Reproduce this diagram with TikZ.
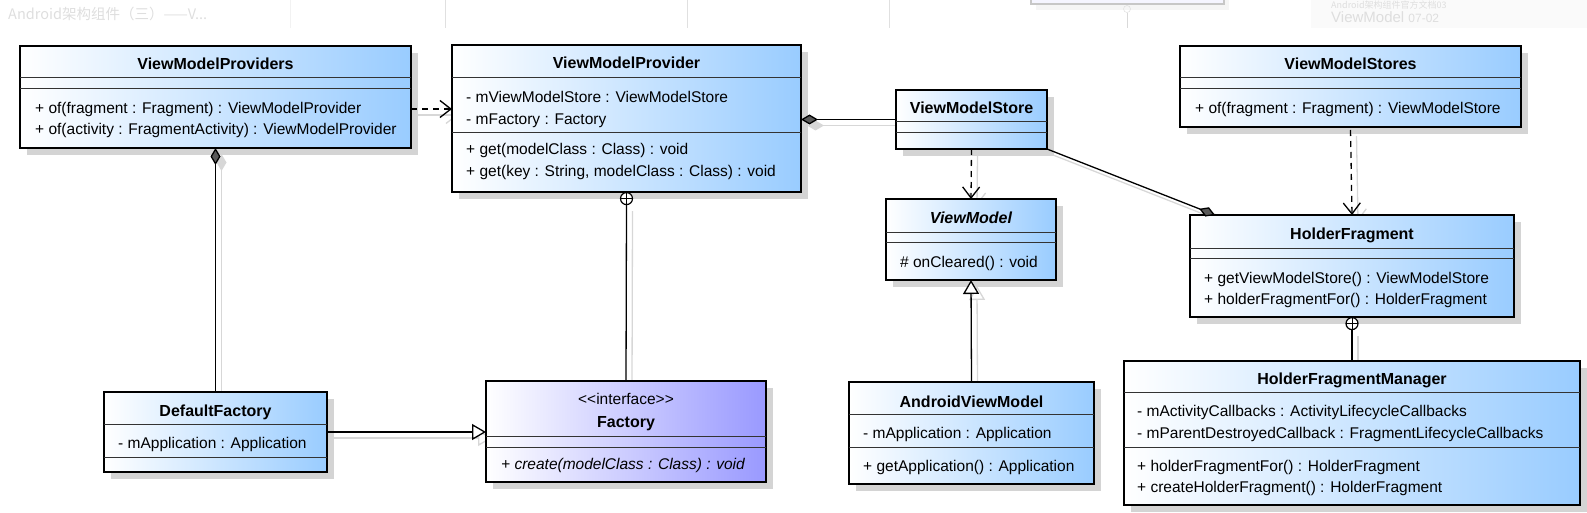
\documentclass[tikz,border=0pt]{standalone}
\usepackage{fontspec}
\setmainfont{Liberation Sans}[Ligatures=NoCommon]
\newfontfamily\cjkfont{Noto Sans CJK SC}
\usetikzlibrary{arrows.meta,shadows,calc}
\pgfdeclarelayer{bg}
\pgfsetlayers{bg,main}
\definecolor{umlblue}{RGB}{153,204,255}
\definecolor{umlviolet}{RGB}{153,153,255}
\definecolor{ghost}{RGB}{215,215,215}
\definecolor{faint}{RGB}{222,222,222}
\def\cc{black}
\def\dfill{black!65}
\tikzset{
  umlclass/.style={draw=black, line width=2.9pt, left color=white, right color=umlblue,
    inner sep=0pt, outer sep=0pt, anchor=north west,
    drop shadow={shadow xshift=7pt, shadow yshift=-7pt, fill=black!17, opacity=1}},
  sepline/.style={line width=1pt, draw=black!80},
  txt/.style={font=\fontsize{15.5}{18}\selectfont, inner sep=0pt, anchor=base west},
  ttl/.style={font=\fontsize{16}{19}\selectfont\bfseries, inner sep=0pt, anchor=base},
  conn/.style={line width=1.3pt, draw=\cc},
  deppat/.style={dash pattern=on 6pt off 5pt},
  dep/.style={conn, deppat, -{Straight Barb[length=11pt,width=17pt,line width=1.3pt]}},
  comp/.style={conn, -{Diamond[length=17pt,width=10pt,fill=\dfill]}},
  gen/.style={conn, -{Triangle[open,length=14pt,width=16pt,fill=white]}},
  nest/.style={conn},
  nestc/.style={circle, draw=black, line width=1.2pt, fill=white, minimum size=12pt, inner sep=0pt,
    path picture={\draw[line width=1pt] (path picture bounding box.north) -- (path picture bounding box.south)
      (path picture bounding box.west) -- (path picture bounding box.east);}},
}
\newcommand\umlbox[6]{%
  \node[umlclass, right color=#6, minimum width={#4-#2}, minimum height={#5-#3}] (#1) at (#2,#3) {};}
\newcommand\sep[2]{\draw[sepline] (#1.west |- 0,#2) -- (#1.east |- 0,#2);}
\newcommand\allconns{%
  \draw[dep] ($(vmps.north east)+(0,63)$) -- ($(vmp.north west)+(0,64)$);
  \draw[comp] (vms.west) -- (vmp.east |- vms.west);
  \draw[comp] (dfac.north) -- (vmps.south);
  \draw[nest] (fac.north) -- (n1.south);
  \draw[gen] (avm.north) -- (vm.south);
  \draw[gen] (dfac.east) -- (fac.west |- dfac.east);
  \draw[dep] (vms.south) -- (vm.north);
  \draw[dep] ($(vmss.south)+(0,3)$) -- (hf.north);
  \draw[comp] (vms.south east) -- ($(hf.north west)+(25,0)$);
  \draw[nest] (hfm.north) -- (n2.south);
}
\begin{document}
\begin{tikzpicture}[x=1pt,y=-1pt]
\useasboundingbox (0,0) rectangle (1587,513);
% faint background remnants
\node[font=\cjkfont\fontsize{14.5}{16}\selectfont, text=faint, anchor=base west, inner sep=0pt] (bgt1) at (8,19.5) {Android架构组件（三）——V...};
\foreach \xx in {445,687,889} \draw[black!12, line width=0.8pt] (\xx,0) -- (\xx,28);
\draw[black!5, line width=0.8pt] (290,0) -- (290,28);
\fill[black!4] (1036,-5) rectangle (1229,10);
\node[draw=black!22, line width=1.5pt, fill=blue!4, minimum width=193pt, minimum height=15pt, inner sep=0pt, anchor=south west] (bgbox) at (1030,5) {};
\node[circle, draw=black!15, minimum size=7pt, inner sep=0pt] (bgc) at (1127,9) {};
\draw[black!15, line width=0.8pt] (bgc.south) -- (1127,28);
\fill[black!2] (1311,0) rectangle (1587,28);
\node[text=faint, anchor=base west, inner sep=0pt, font=\cjkfont\fontsize{9}{10}\selectfont] (bgt2) at (1331,9) {Android架构组件官方文档03};
\node[text=faint, anchor=base west, inner sep=0pt, font=\fontsize{15}{18}\selectfont] (bgt3) at (1331,23) {ViewModel {\fontsize{12}{14}\selectfont 07-02}};

% classes
\umlbox{vmps}{20}{46}{411}{148}{umlblue}
\sep{vmps}{78}\sep{vmps}{89}
\node[ttl] (vmps-t) at (215.5,70) {ViewModelProviders};
\node[txt] (vmps-m1) at (35,114) {+ of(fragment : Fragment) : ViewModelProvider};
\node[txt] (vmps-m2) at (35,135) {+ of(activity : FragmentActivity) : ViewModelProvider};

\umlbox{vmp}{452}{45}{801}{192}{umlblue}
\sep{vmp}{78}\sep{vmp}{133}
\node[ttl] (vmp-t) at (626.5,69) {ViewModelProvider};
\node[txt] (vmp-a1) at (466,103) {- mViewModelStore : ViewModelStore};
\node[txt] (vmp-a2) at (466,125) {- mFactory : Factory};
\node[txt] (vmp-m1) at (466,155) {+ get(modelClass : Class) : void};
\node[txt] (vmp-m2) at (466,177) {+ get(key : String, modelClass : Class) : void};

\umlbox{vms}{896}{90}{1047}{149}{umlblue}
\sep{vms}{122}\sep{vms}{133}
\node[ttl] (vms-t) at (971.5,114) {ViewModelStore};

\umlbox{vmss}{1180}{46}{1521}{127}{umlblue}
\sep{vmss}{78}\sep{vmss}{89}
\node[ttl] (vmss-t) at (1350.5,70) {ViewModelStores};
\node[txt] (vmss-m1) at (1195,114) {+ of(fragment : Fragment) : ViewModelStore};

\umlbox{vm}{886}{199}{1056}{280}{umlblue}
\sep{vm}{232}\sep{vm}{242}
\node[ttl, font=\fontsize{16}{19}\selectfont\bfseries\itshape] (vm-t) at (971,223) {ViewModel};
\node[txt] (vm-m1) at (900,267) {\# onCleared() : void};

\umlbox{hf}{1190}{215}{1514}{317}{umlblue}
\sep{hf}{248}\sep{hf}{258}
\node[ttl] (hf-t) at (1352,239) {HolderFragment};
\node[txt] (hf-m1) at (1204,283) {+ getViewModelStore() : ViewModelStore};
\node[txt] (hf-m2) at (1204,304) {+ holderFragmentFor() : HolderFragment};

\umlbox{avm}{849}{382}{1094}{484}{umlblue}
\sep{avm}{414}\sep{avm}{447}
\node[ttl] (avm-t) at (971.5,407) {AndroidViewModel};
\node[txt] (avm-a1) at (863,438) {- mApplication : Application};
\node[txt] (avm-m1) at (863,471) {+ getApplication() : Application};

\umlbox{hfm}{1124}{361}{1580}{505}{umlblue}
\sep{hfm}{392}\sep{hfm}{447}
\node[ttl] (hfm-t) at (1352,384) {HolderFragmentManager};
\node[txt] (hfm-a1) at (1137,416) {- mActivityCallbacks : ActivityLifecycleCallbacks};
\node[txt] (hfm-a2) at (1137,438) {- mParentDestroyedCallback : FragmentLifecycleCallbacks};
\node[txt] (hfm-m1) at (1137,471) {+ holderFragmentFor() : HolderFragment};
\node[txt] (hfm-m2) at (1137,492) {+ createHolderFragment() : HolderFragment};

\umlbox{dfac}{104}{392}{327}{472}{umlblue}
\sep{dfac}{424}\sep{dfac}{457}
\node[ttl] (dfac-t) at (215.5,416) {DefaultFactory};
\node[txt] (dfac-a1) at (118,448) {- mApplication : Application};

\umlbox{fac}{486}{381}{766}{482}{umlviolet}
\sep{fac}{436}\sep{fac}{447}
\node[txt, anchor=base] (fac-s) at (626,404) {{<}{<}interface{>}{>}};
\node[ttl] (fac-t) at (626,427) {Factory};
\node[txt, font=\fontsize{15.5}{18}\selectfont\itshape] (fac-m1) at (501,469) {+ create(modelClass : Class) : void};

% nesting circles
\node[nestc, anchor=north] (n1) at (vmp.south) {};
\node[nestc, anchor=north] (n2) at (hf.south) {};

% ghost shadows of connectors
\begin{pgfonlayer}{bg}
\begin{scope}[transform canvas={shift={(6pt,-6pt)}}, deppat/.style={solid}]
\def\cc{ghost}\def\dfill{ghost}
\allconns
\end{scope}
\end{pgfonlayer}

% connectors
\allconns
\end{tikzpicture}
\end{document}
